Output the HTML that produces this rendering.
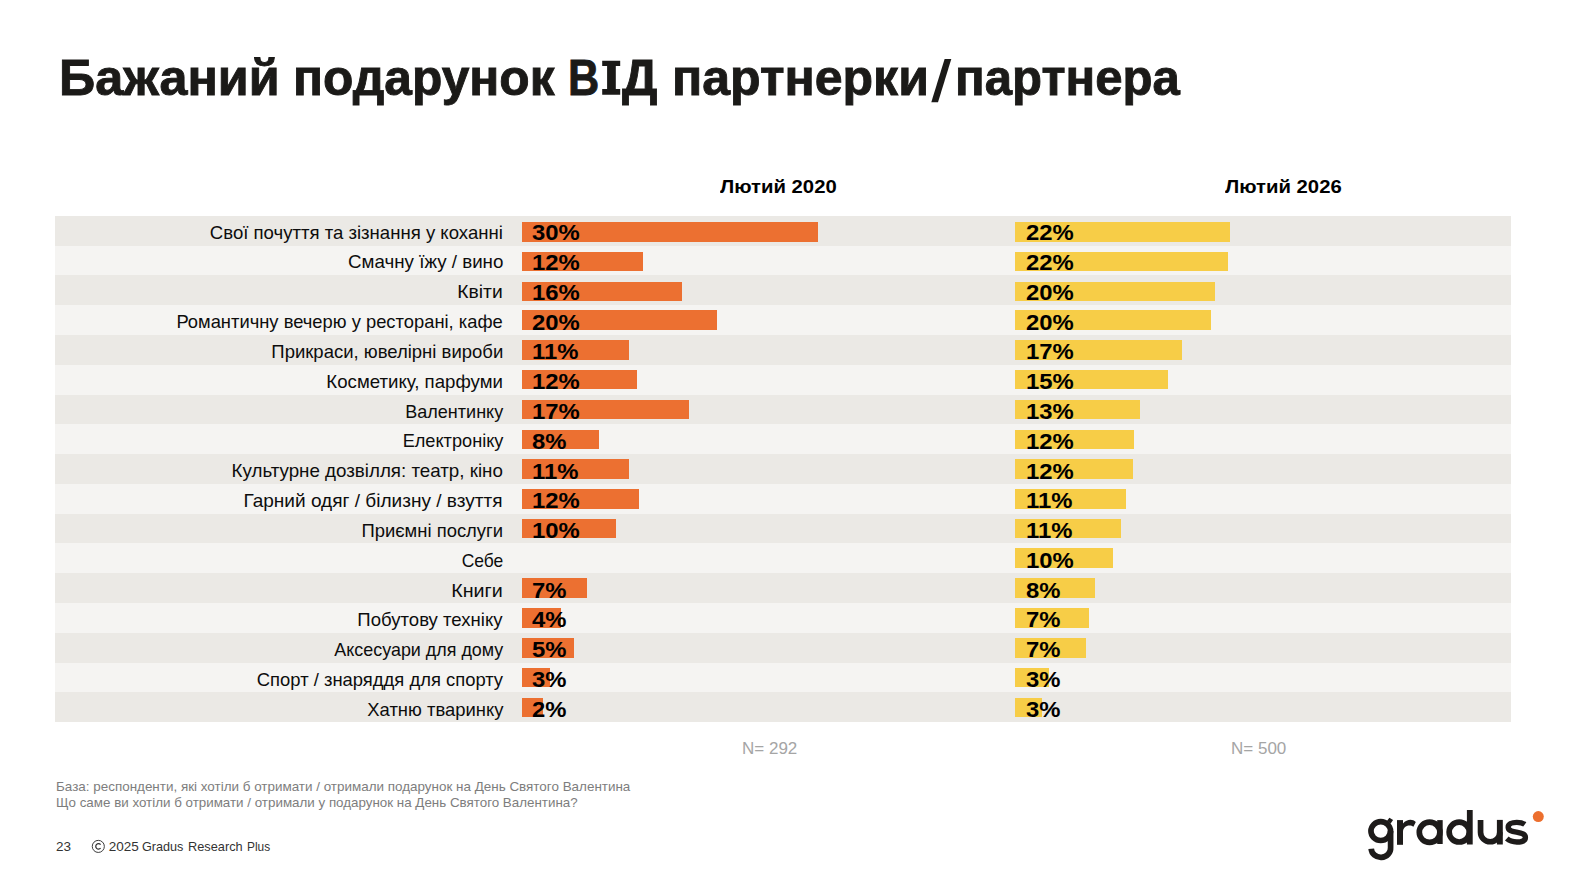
<!DOCTYPE html>
<html><head><meta charset="utf-8"><style>
html,body{margin:0;padding:0;background:#fff;}
body{width:1572px;height:874px;position:relative;overflow:hidden;font-family:"Liberation Sans",sans-serif;}
.a{position:absolute;white-space:nowrap;line-height:1;transform-origin:0 0;}
.t{position:absolute;-webkit-text-stroke:0.9px #1b1a18;left:59px;top:53px;font-size:50px;font-weight:bold;color:#1b1a18;transform-origin:0 0;transform:scaleX(1.0115);white-space:nowrap;line-height:1;}
.h{position:absolute;font-size:18px;font-weight:bold;color:#000;transform-origin:0 0;white-space:nowrap;line-height:1;}
.row{position:absolute;left:55px;width:1456px;}
.lb{position:absolute;right:1069px;font-size:19px;color:#0d0d0d;white-space:nowrap;line-height:1;transform-origin:100% 0;}
.bar{position:absolute;}
.pc{position:absolute;font-size:22px;font-weight:bold;color:#000;white-space:nowrap;line-height:1;transform-origin:0 0;transform:scaleX(1.084);}
.ft{position:absolute;left:56px;font-size:13.5px;color:#7d7d7d;white-space:nowrap;line-height:1;}
.n{position:absolute;font-size:17px;color:#a5a5a5;white-space:nowrap;line-height:1;}
</style></head><body>
<div class="t" style="left:58.78px;transform:scaleX(1.0061)">Бажаний</div>
<div class="t" style="left:292.82px;transform:scaleX(0.9942)">подарунок</div>
<div class="t" style="left:567.9px;transform:scaleX(0.865)">В</div>
<div class="t" style="left:622px;transform:scaleX(0.994)">Д</div>
<svg style="position:absolute;left:0;top:0" width="700" height="120"><path d="M602.2,60.7 H620.2 V66.1 H615.8 V89 H620.2 V94.8 H602.2 V89 H607.1 V66.1 H602.2 Z" fill="#1b1a18"/></svg>
<div class="t" style="left:671.50px;transform:scaleX(1.0008)">партнерки</div>
<div class="t" style="left:954.65px;transform:scaleX(0.9828)">партнера</div>
<svg style="position:absolute;left:0;top:0" width="1000" height="120"><polygon points="931.3,102.3 938.0,102.3 951.3,58.9 944.6,58.9" fill="#1b1a18"/></svg>
<div class="h" style="left:720px;top:177.8px;transform:scaleX(1.127)">Лютий 2020</div>
<div class="h" style="left:1225px;top:177.8px;transform:scaleX(1.127)">Лютий 2026</div>

<div class="row" style="top:216px;height:30px;background:#ebe9e5"></div>
<div class="lb" style="top:223.00px;transform:scaleX(0.9772)">Свої почуття та зізнання у коханні</div>
<div class="bar" style="left:522px;top:222px;width:296.0px;height:20px;background:#ec7031"></div>
<div class="pc" style="left:532px;top:221.90px">30%</div>
<div class="bar" style="left:1015px;top:222px;width:214.9px;height:20px;background:#f7cd47"></div>
<div class="pc" style="left:1026px;top:221.90px">22%</div>
<div class="row" style="top:246px;height:29px;background:#f5f4f2"></div>
<div class="lb" style="top:251.90px;transform:scaleX(0.9871)">Смачну їжу / вино</div>
<div class="bar" style="left:522px;top:252px;width:120.8px;height:19px;background:#ec7031"></div>
<div class="pc" style="left:532px;top:251.90px">12%</div>
<div class="bar" style="left:1015px;top:252px;width:212.8px;height:19px;background:#f7cd47"></div>
<div class="pc" style="left:1026px;top:251.90px">22%</div>
<div class="row" style="top:275px;height:30px;background:#ebe9e5"></div>
<div class="lb" style="top:281.70px;transform:scaleX(1.0142)">Квіти</div>
<div class="bar" style="left:522px;top:282px;width:160.1px;height:19px;background:#ec7031"></div>
<div class="pc" style="left:532px;top:281.90px">16%</div>
<div class="bar" style="left:1015px;top:282px;width:199.7px;height:19px;background:#f7cd47"></div>
<div class="pc" style="left:1026px;top:281.90px">20%</div>
<div class="row" style="top:305px;height:30px;background:#f5f4f2"></div>
<div class="lb" style="top:311.70px;transform:scaleX(0.9663)">Романтичну вечерю у ресторані, кафе</div>
<div class="bar" style="left:522px;top:310px;width:194.9px;height:20px;background:#ec7031"></div>
<div class="pc" style="left:532px;top:311.90px">20%</div>
<div class="bar" style="left:1015px;top:310px;width:195.9px;height:20px;background:#f7cd47"></div>
<div class="pc" style="left:1026px;top:311.90px">20%</div>
<div class="row" style="top:335px;height:30px;background:#ebe9e5"></div>
<div class="lb" style="top:341.70px;transform:scaleX(0.9733)">Прикраси, ювелірні вироби</div>
<div class="bar" style="left:522px;top:340px;width:107.1px;height:20px;background:#ec7031"></div>
<div class="pc" style="left:532px;top:340.90px">11%</div>
<div class="bar" style="left:1015px;top:340px;width:167.0px;height:20px;background:#f7cd47"></div>
<div class="pc" style="left:1026px;top:340.90px">17%</div>
<div class="row" style="top:365px;height:30px;background:#f5f4f2"></div>
<div class="lb" style="top:371.70px;transform:scaleX(0.9814)">Косметику, парфуми</div>
<div class="bar" style="left:522px;top:370px;width:114.9px;height:19px;background:#ec7031"></div>
<div class="pc" style="left:532px;top:370.90px">12%</div>
<div class="bar" style="left:1015px;top:370px;width:153.0px;height:19px;background:#f7cd47"></div>
<div class="pc" style="left:1026px;top:370.90px">15%</div>
<div class="row" style="top:395px;height:29px;background:#ebe9e5"></div>
<div class="lb" style="top:401.70px;transform:scaleX(0.9490)">Валентинку</div>
<div class="bar" style="left:522px;top:400px;width:166.9px;height:19px;background:#ec7031"></div>
<div class="pc" style="left:532px;top:400.90px">17%</div>
<div class="bar" style="left:1015px;top:400px;width:124.8px;height:19px;background:#f7cd47"></div>
<div class="pc" style="left:1026px;top:400.90px">13%</div>
<div class="row" style="top:424px;height:30px;background:#f5f4f2"></div>
<div class="lb" style="top:430.70px;transform:scaleX(0.9558)">Електроніку</div>
<div class="bar" style="left:522px;top:430px;width:76.8px;height:19px;background:#ec7031"></div>
<div class="pc" style="left:532px;top:430.90px">8%</div>
<div class="bar" style="left:1015px;top:430px;width:118.8px;height:19px;background:#f7cd47"></div>
<div class="pc" style="left:1026px;top:430.90px">12%</div>
<div class="row" style="top:454px;height:30px;background:#ebe9e5"></div>
<div class="lb" style="top:460.70px;transform:scaleX(0.9871)">Культурне дозвілля: театр, кіно</div>
<div class="bar" style="left:522px;top:459px;width:106.9px;height:20px;background:#ec7031"></div>
<div class="pc" style="left:532px;top:460.90px">11%</div>
<div class="bar" style="left:1015px;top:459px;width:117.9px;height:20px;background:#f7cd47"></div>
<div class="pc" style="left:1026px;top:460.90px">12%</div>
<div class="row" style="top:484px;height:30px;background:#f5f4f2"></div>
<div class="lb" style="top:490.70px;transform:scaleX(1.0023)">Гарний одяг / білизну / взуття</div>
<div class="bar" style="left:522px;top:489px;width:116.8px;height:20px;background:#ec7031"></div>
<div class="pc" style="left:532px;top:489.90px">12%</div>
<div class="bar" style="left:1015px;top:489px;width:110.9px;height:20px;background:#f7cd47"></div>
<div class="pc" style="left:1026px;top:489.90px">11%</div>
<div class="row" style="top:514px;height:29px;background:#ebe9e5"></div>
<div class="lb" style="top:520.70px;transform:scaleX(0.9699)">Приємні послуги</div>
<div class="bar" style="left:522px;top:519px;width:93.8px;height:19px;background:#ec7031"></div>
<div class="pc" style="left:532px;top:519.90px">10%</div>
<div class="bar" style="left:1015px;top:519px;width:106.1px;height:19px;background:#f7cd47"></div>
<div class="pc" style="left:1026px;top:519.90px">11%</div>
<div class="row" style="top:543px;height:30px;background:#f5f4f2"></div>
<div class="lb" style="top:550.80px;transform:scaleX(0.9186)">Себе</div>
<div class="bar" style="left:1015px;top:548px;width:97.7px;height:20px;background:#f7cd47"></div>
<div class="pc" style="left:1026px;top:549.90px">10%</div>
<div class="row" style="top:573px;height:30px;background:#ebe9e5"></div>
<div class="lb" style="top:580.70px;transform:scaleX(1.0362)">Книги</div>
<div class="bar" style="left:522px;top:578px;width:64.9px;height:20px;background:#ec7031"></div>
<div class="pc" style="left:532px;top:579.90px">7%</div>
<div class="bar" style="left:1015px;top:578px;width:80.1px;height:20px;background:#f7cd47"></div>
<div class="pc" style="left:1026px;top:579.90px">8%</div>
<div class="row" style="top:603px;height:30px;background:#f5f4f2"></div>
<div class="lb" style="top:609.80px;transform:scaleX(0.9776)">Побутову техніку</div>
<div class="bar" style="left:522px;top:608px;width:38.8px;height:20px;background:#ec7031"></div>
<div class="pc" style="left:532px;top:608.90px">4%</div>
<div class="bar" style="left:1015px;top:608px;width:74.0px;height:20px;background:#f7cd47"></div>
<div class="pc" style="left:1026px;top:608.90px">7%</div>
<div class="row" style="top:633px;height:30px;background:#ebe9e5"></div>
<div class="lb" style="top:639.70px;transform:scaleX(0.9424)">Аксесуари для дому</div>
<div class="bar" style="left:522px;top:638px;width:51.8px;height:20px;background:#ec7031"></div>
<div class="pc" style="left:532px;top:638.90px">5%</div>
<div class="bar" style="left:1015px;top:638px;width:70.8px;height:20px;background:#f7cd47"></div>
<div class="pc" style="left:1026px;top:638.90px">7%</div>
<div class="row" style="top:663px;height:29px;background:#f5f4f2"></div>
<div class="lb" style="top:669.70px;transform:scaleX(0.9692)">Спорт / знаряддя для спорту</div>
<div class="bar" style="left:522px;top:668px;width:27.8px;height:19px;background:#ec7031"></div>
<div class="pc" style="left:532px;top:668.90px">3%</div>
<div class="bar" style="left:1015px;top:668px;width:33.7px;height:19px;background:#f7cd47"></div>
<div class="pc" style="left:1026px;top:668.90px">3%</div>
<div class="row" style="top:692px;height:30px;background:#ebe9e5"></div>
<div class="lb" style="top:699.60px;transform:scaleX(0.9693)">Хатню тваринку</div>
<div class="bar" style="left:522px;top:698px;width:20.7px;height:19px;background:#ec7031"></div>
<div class="pc" style="left:532px;top:698.90px">2%</div>
<div class="bar" style="left:1015px;top:698px;width:26.6px;height:19px;background:#f7cd47"></div>
<div class="pc" style="left:1026px;top:698.90px">3%</div>
<div class="n" style="left:742px;top:739.5px">N= 292</div>
<div class="n" style="left:1231px;top:739.5px">N= 500</div>
<div class="ft" style="top:779.8px;transform-origin:0 0;transform:scaleX(0.995)">База: респонденти, які хотіли б отримати / отримали подарунок на День Святого Валентина</div>
<div class="ft" style="top:795.9px;transform-origin:0 0;transform:scaleX(0.99)">Що саме ви хотіли б отримати / отримали у подарунок на День Святого Валентина?</div>
<div class="a" style="left:56px;top:839.9px;font-size:13.5px;color:#333">23</div>
<svg style="position:absolute;left:0;top:0" width="120" height="874"><circle cx="98.3" cy="846.4" r="6.05" fill="none" stroke="#333" stroke-width="0.95"/><path d="M100.6,844.6 A2.75,2.75 0 1 0 100.6,848.2" fill="none" stroke="#333" stroke-width="1.25"/></svg>
<div class="a" style="left:108.7px;top:839.9px;font-size:13.5px;color:#333">2025</div>
<div class="a" style="left:141.96px;top:839.9px;font-size:13.5px;color:#333;transform:scaleX(0.935)">Gradus</div>
<div class="a" style="left:188.05px;top:839.9px;font-size:13.5px;color:#333;transform:scaleX(0.946)">Research</div>
<div class="a" style="left:246.6px;top:839.9px;font-size:13.5px;color:#333;transform:scaleX(0.88)">Plus</div>

<svg style="position:absolute;left:0;top:0" width="1572" height="874" viewBox="0 0 1572 874">
<g fill="#1d1b1a" stroke="none">
<rect x="1397" y="820.1" width="6" height="24.7"/>
<path d="M1403,823.6 C1405,820.8 1408,819.7 1410.5,819.7 C1412.5,819.7 1414.3,820.5 1415.8,822 L1413.4,826.8 C1412.3,826 1411,825.5 1409.5,825.5 C1405.8,825.5 1403,828 1403,832 Z"/>
<rect x="1437.2" y="820.1" width="5.5" height="23.9"/>
<rect x="1466.9" y="810" width="5.8" height="34.5"/>
<rect x="1496.9" y="819.9" width="5.9" height="24.6"/>
<polygon points="1387.1,820.8 1389.4,817.7 1393.1,820.1 1390.5,823.7"/>
</g>
<g fill="none" stroke="#1d1b1a" stroke-width="5.7">
<ellipse cx="1380.75" cy="831.1" rx="9.8" ry="9.4"/>
<path d="M1390.6,831 L1390.6,847.6 A9.7,9.2 0 0 1 1371.2,848.7"/>
<ellipse cx="1429.6" cy="832.3" rx="10.3" ry="10.1"/>
<ellipse cx="1459.2" cy="832.1" rx="10.05" ry="9.9"/>
<path d="M1480.55,819.9 L1480.55,832.15 A9.65,9.65 0 0 0 1499.85,832.15"/>
<path stroke-width="5.4" d="M1524.8,824.4 C1522.5,822.8 1519.5,822.4 1516.8,822.4 C1511.5,822.4 1508.2,824.3 1508.2,827.2 C1508.2,830.5 1511.5,831.3 1516.5,832.2 C1522,833.2 1525.4,834.2 1525.4,837.6 C1525.4,840.5 1521.8,842 1516.8,842 C1512.8,842 1509.2,840.8 1506.8,838.6"/>
</g>
<circle cx="1538.3" cy="816.6" r="5.5" fill="#ec6f2e"/>
</svg>

</body></html>
